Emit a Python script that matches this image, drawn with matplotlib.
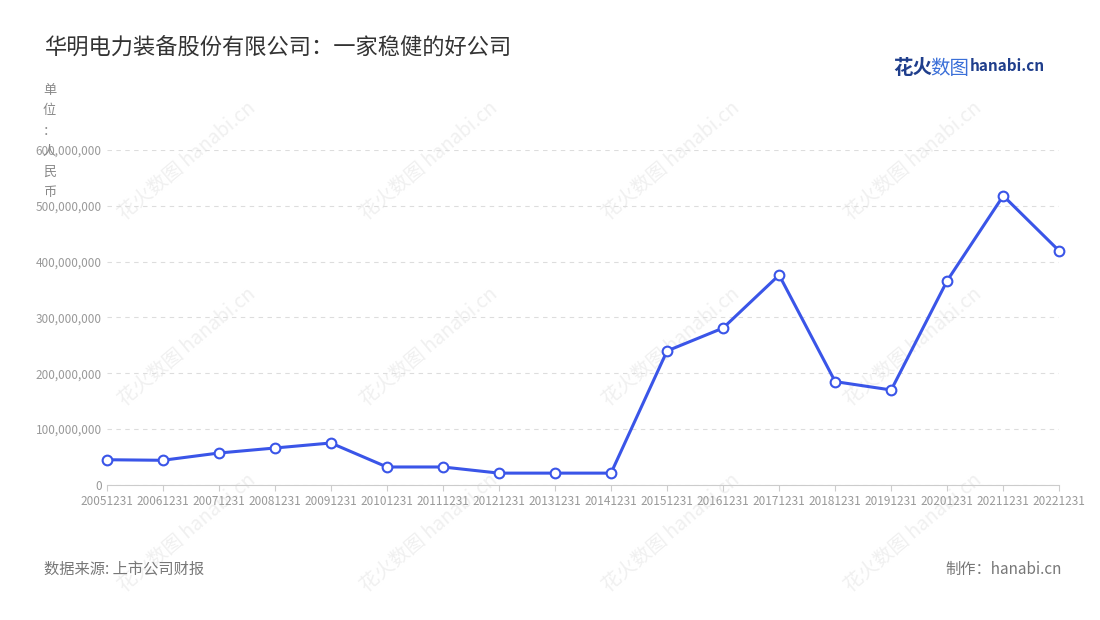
import matplotlib.pyplot as plt
from matplotlib.ticker import FuncFormatter

plt.rcParams['font.family'] = ['Noto Sans CJK SC', 'DejaVu Sans']

years = ['20051231', '20061231', '20071231', '20081231', '20091231', '20101231',
         '20111231', '20121231', '20131231', '20141231', '20151231', '20161231',
         '20171231', '20181231', '20191231', '20201231', '20211231', '20221231']
profit = [45e6, 44e6, 57e6, 66e6, 75e6, 32e6, 32e6, 21e6, 21e6, 21e6,
          240e6, 281e6, 376e6, 185e6, 170e6, 366e6, 518e6, 419e6]

fig = plt.figure(figsize=(11, 6.2), dpi=100)
ax = fig.add_axes([0.097, 0.218, 0.866, 0.54])
ax.patch.set_alpha(0)

x = range(len(years))
ax.plot(x, profit, color='#3a55e8', lw=2.2, marker='o', ms=7,
        mfc='white', mec='#3a55e8', mew=1.5, zorder=3, clip_on=False)

ax.set_xlim(0, len(years) - 1)
ax.set_ylim(0, 600e6)
ax.set_yticks(range(0, 600000001, 100000000))
ax.yaxis.set_major_formatter(FuncFormatter(lambda v, p: f'{int(v):,}'))
ax.set_xticks(list(x))
ax.set_xticklabels(years)
ax.tick_params(axis='both', labelsize=8.5, colors='#999999', length=0)
ax.tick_params(axis='x', length=4, color='#cccccc')
ax.grid(axis='y', ls=(0, (4, 4)), color='#dddddd', lw=0.8)
for s in ['top', 'right', 'left']:
    ax.spines[s].set_visible(False)
ax.spines['bottom'].set_color('#cccccc')

# watermarks
for wx in [0.17, 0.39, 0.61, 0.83]:
    for wy in [0.74, 0.44, 0.14]:
        fig.text(wx, wy, '花火数图 hanabi.cn', fontsize=14, color='#f0f0f0',
                 rotation=40, ha='center', va='center', zorder=-1)

fig.text(0.04, 0.912, '华明电力装备股份有限公司：一家稳健的好公司', fontsize=16, color='#333333')
fig.text(0.045, 0.865, '单\n位\n：\n人\n民\n币', fontsize=9.5, color='#888888',
         va='top', ha='center', linespacing=1.75)
fig.text(0.04, 0.075, '数据来源: 上市公司财报', fontsize=11, color='#777777')
fig.text(0.965, 0.075, '制作：hanabi.cn', fontsize=11, color='#777777', ha='right')
fig.text(0.812, 0.88, '花火', fontsize=14, color='#1f3e8c', fontweight='bold')
fig.text(0.846, 0.88, '数图', fontsize=14, color='#3a6fd8')
fig.text(0.882, 0.885, 'hanabi.cn', fontsize=11, color='#1f3e8c', fontweight='bold')

fig.savefig('out.png')
